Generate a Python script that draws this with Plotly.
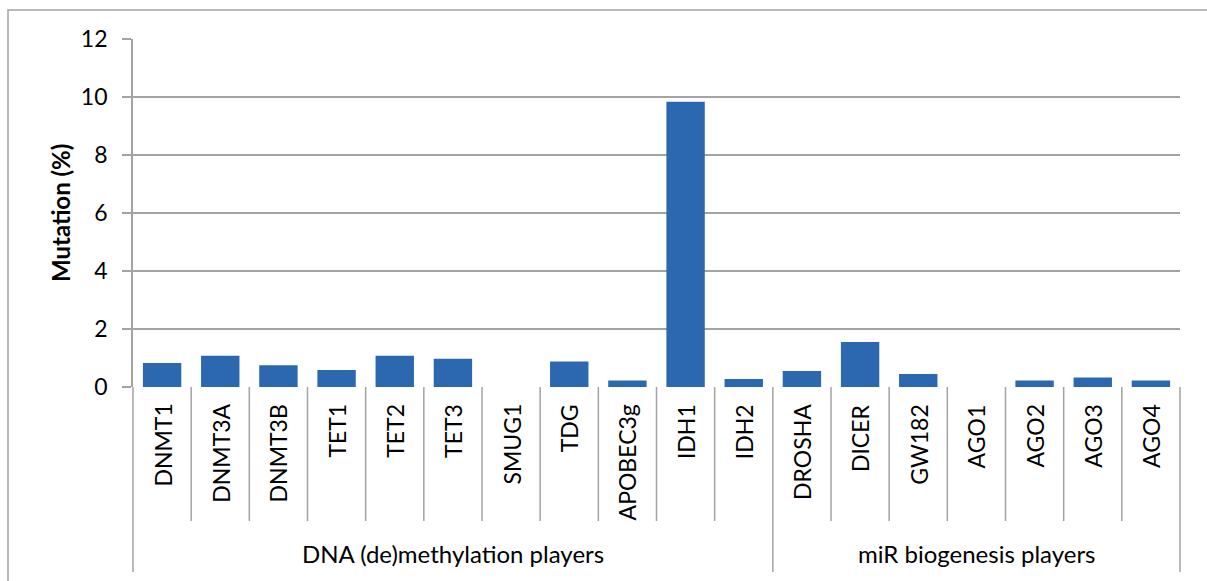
import plotly.graph_objects as go

categories = ["DNMT1", "DNMT3A", "DNMT3B", "TET1", "TET2", "TET3", "SMUG1", "TDG",
              "APOBEC3g", "IDH1", "IDH2", "DROSHA", "DICER", "GW182", "AGO1", "AGO2",
              "AGO3", "AGO4"]
mutation = [0.83, 1.08, 0.75, 0.59, 1.08, 0.97, 0.0, 0.88,
            0.22, 9.84, 0.28, 0.55, 1.55, 0.45, 0.0, 0.22,
            0.33, 0.22]
groups = ["DNA (de)methylation players", "miR biogenesis players"]
group_sizes = [11, 7]
y_ticks = [0, 2, 4, 6, 8, 10, 12]

W, H = 1207, 581
L, R, T, B = 133, 27, 39, 194
plot_h = H - T - B
GRID = "#a3a3a3"
FONT = "Lato, Carlito, Calibri, 'Liberation Sans', sans-serif"

fig = go.Figure()
fig.add_trace(go.Bar(
    x=categories, y=mutation,
    marker=dict(color="#2c68b0", line=dict(width=0)),
    width=0.66,
))

def py(px):  # pixel offset below axis -> paper fraction
    return -px / plot_h

shapes = []
annotations = []
edges = [sum(group_sizes[:k]) for k in range(1, len(group_sizes))]
# category separators
for i in range(1, len(categories)):
    shapes.append(dict(type="line", xref="x", yref="paper", x0=i - 0.5, x1=i - 0.5,
                       y0=0, y1=py(185 if i in edges else 134),
                       line=dict(color=GRID, width=1.5)))
# outer edges of the category axis
for xp in [0, 1]:
    shapes.append(dict(type="line", xref="paper", yref="paper", x0=xp, x1=xp,
                       y0=0, y1=py(185), line=dict(color=GRID, width=1.5)))
# outer chart border
shapes.append(dict(type="rect", xref="paper", yref="paper",
                   x0=-(L - 8) / (W - L - R), x1=(W - L + 40) / (W - L - R),
                   y0=py(B + 10), y1=1 + (T - 10) / plot_h,
                   line=dict(color=GRID, width=1.5), fillcolor="rgba(0,0,0,0)"))

# category labels
for c in categories:
    annotations.append(dict(x=c, xref="x", y=0, yref="paper", yshift=-15,
                            text=c, textangle=-90, showarrow=False,
                            xanchor="center", yanchor="top",
                            font=dict(family=FONT, size=23, color="#000")))
# group labels
start = 0
for g, n in zip(groups, group_sizes):
    center = start + (n - 1) / 2
    annotations.append(dict(x=center, xref="x", y=py(166), yref="paper",
                            text=g, showarrow=False, xanchor="center", yanchor="middle",
                            font=dict(family=FONT, size=24, color="#000")))
    start += n
# y-axis title
annotations.append(dict(x=0, xref="paper", xshift=-73, y=0.5, yref="paper",
                        text="<b>Mutation (%)</b>", textangle=-90, showarrow=False,
                        xanchor="center", yanchor="middle",
                        font=dict(family=FONT, size=24, color="#000")))

fig.update_layout(
    width=W, height=H,
    margin=dict(l=L, r=R, t=T, b=B),
    plot_bgcolor="white", paper_bgcolor="white",
    showlegend=False,
    bargap=0.34,
    shapes=shapes, annotations=annotations,
    xaxis=dict(type="category", range=[-0.5, len(categories) - 0.5],
               showticklabels=False, showgrid=False, zeroline=False,
               showline=False, ticks=""),
    yaxis=dict(range=[0, 12], tickvals=y_ticks, showgrid=True, gridcolor=GRID,
               gridwidth=1.8, zeroline=False, showline=True, linecolor=GRID,
               linewidth=1.8, ticks="outside", ticklen=9, tickcolor=GRID,
               tickwidth=1.8, ticklabelstandoff=10,
               tickfont=dict(family=FONT, size=23, color="#000")),
)
fig.write_html("out.html")
